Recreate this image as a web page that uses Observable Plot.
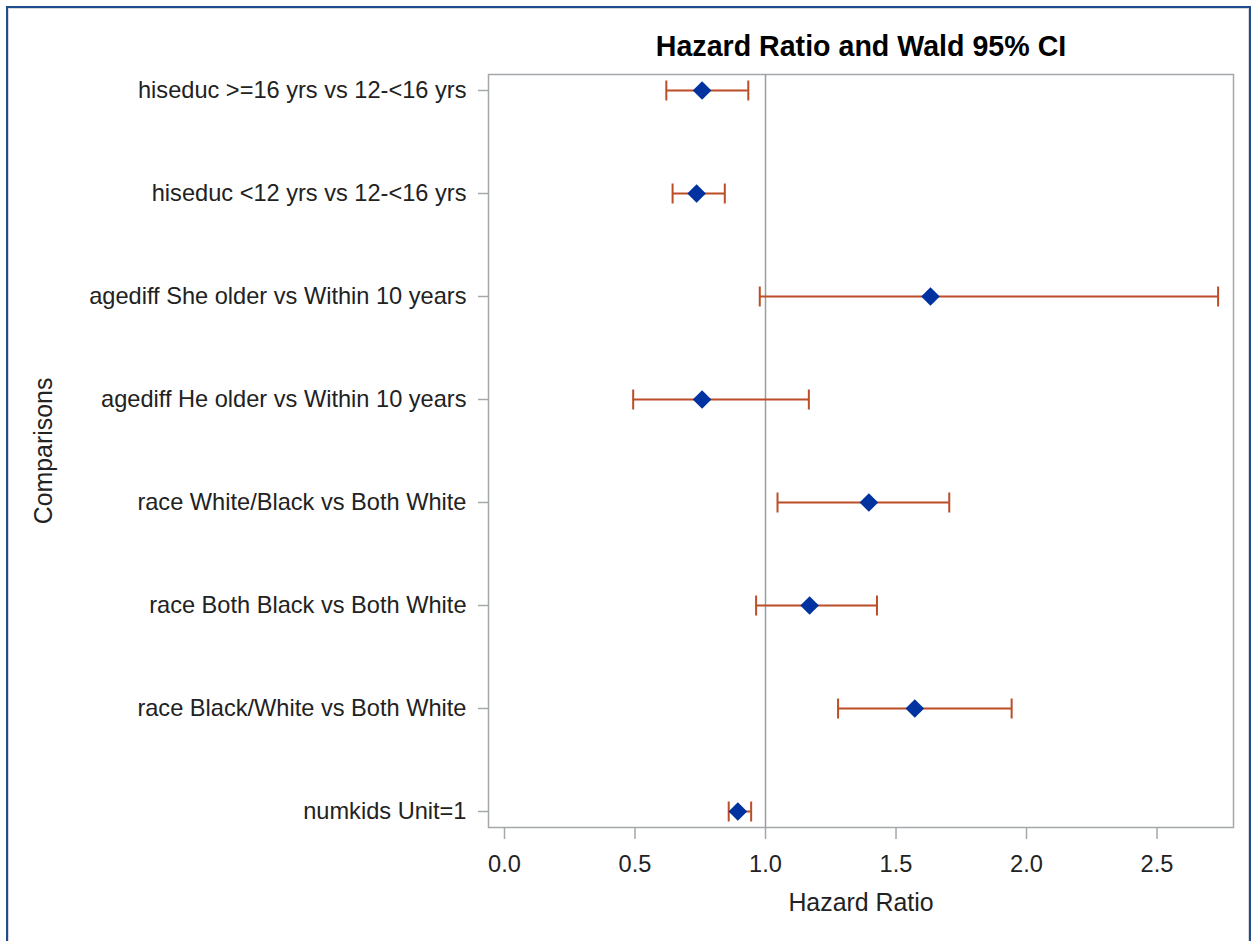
<!DOCTYPE html>
<html>
<head>
<meta charset="utf-8">
<script src="https://cdn.jsdelivr.net/npm/d3@7"></script>
<script src="https://cdn.jsdelivr.net/npm/@observablehq/plot@0.6"></script>
<style>
  html, body { margin: 0; padding: 0; background: #fff; }
  #wrap { position: relative; width: 1257px; height: 941px; overflow: hidden; }
  #border { position: absolute; left: 6px; top: 6px; width: 1245px; height: 1000px;
    border: 2px solid #1f4e8c; box-shadow: inset 1px 1px 0 #d8d8d8, inset -1px 0 0 #d8d8d8; pointer-events: none; box-sizing: border-box; }
</style>
</head>
<body>
<div id="wrap"><div id="chart"></div><div id="border"></div></div>
<script>
const labels = [
  "hiseduc >=16 yrs vs 12-<16 yrs",
  "hiseduc <12 yrs vs 12-<16 yrs",
  "agediff She older vs Within 10 years",
  "agediff He older vs Within 10 years",
  "race White/Black vs Both White",
  "race Both Black vs Both White",
  "race Black/White vs Both White",
  "numkids Unit=1"
];
const hazardRatio = [0.757, 0.736, 1.632, 0.757, 1.396, 1.169, 1.572, 0.894];
const lowerCL =     [0.620, 0.644, 0.978, 0.493, 1.046, 0.964, 1.278, 0.859];
const upperCL =     [0.934, 0.844, 2.734, 1.166, 1.704, 1.427, 1.943, 0.945];
const xTicks = [0, 0.5, 1.0, 1.5, 2.0, 2.5];
const titleText = "Hazard Ratio and Wald 95% CI";
const xLabel = "Hazard Ratio";
const yLabel = "Comparisons";

const rows = labels.map((label, i) => ({label, hr: hazardRatio[i], lower: lowerCL[i], upper: upperCL[i]}));

const frameColor = "#a4a8ab";
const barColor = "#bb4d27";
const dotColor = "#0033a0";

// vertical cap symbol for error bar ends
const capSymbol = {
  draw(context, size) {
    const r = Math.sqrt(size / Math.PI);
    context.moveTo(0, -r);
    context.lineTo(0, r);
  }
};

const chart = Plot.plot({
  width: 1257,
  height: 941,
  marginLeft: 488,
  marginRight: 24,
  marginTop: 74,
  marginBottom: 114,
  style: {fontFamily: "'Liberation Sans', Arial, sans-serif", fontSize: "23.6px", color: "#222", background: "transparent"},
  x: {domain: [-0.0613, 2.793], ticks: xTicks},
  y: {type: "point", domain: labels, padding: 0, inset: 15},
  marks: [
    Plot.frame({stroke: frameColor, strokeWidth: 1.5}),
    Plot.ruleX([1], {stroke: "#9a9da0", strokeWidth: 1.5}),
    Plot.ruleY(rows, {y: "label", x1: "lower", x2: "upper", stroke: barColor, strokeWidth: 2}),
    Plot.dot(rows, {x: "lower", y: "label", symbol: capSymbol, r: 10, fill: "none", stroke: barColor, strokeWidth: 2}),
    Plot.dot(rows, {x: "upper", y: "label", symbol: capSymbol, r: 10, fill: "none", stroke: barColor, strokeWidth: 2}),
    Plot.dot(rows, {x: "hr", y: "label", symbol: "diamond2", r: 8.4, fill: dotColor, stroke: "none"}),
    Plot.axisX({ticks: xTicks, tickFormat: d3.format(".1f"), tickSize: 12, tickPadding: 16, stroke: frameColor, strokeWidth: 1.5, fill: "#222", label: null}),
    Plot.axisY({tickSize: 10, tickPadding: 12, stroke: frameColor, strokeWidth: 1.5, fill: "#222", label: null}),
    Plot.text([titleText], {frameAnchor: "top", dy: -28, lineAnchor: "middle", fontWeight: "bold", fontSize: 28.6, fill: "#000"}),
    Plot.text([xLabel], {frameAnchor: "bottom", dy: 76, lineAnchor: "middle", fontSize: 24.9, fill: "#222"}),
    Plot.text([yLabel], {frameAnchor: "left", dx: -444, rotate: -90, textAnchor: "middle", lineAnchor: "middle", fontSize: 24.9, fill: "#222"})
  ]
});
document.getElementById("chart").append(chart);
</script>
</body>
</html>
